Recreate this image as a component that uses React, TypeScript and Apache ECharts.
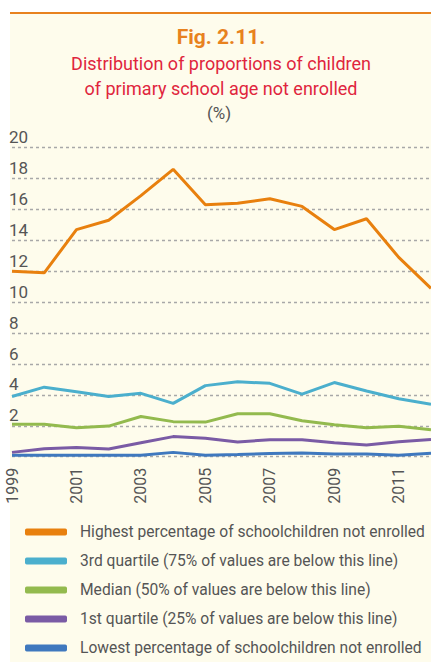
import React, { useEffect, useRef } from "react";
import * as echarts from "echarts";

const years = ["1999","2000","2001","2002","2003","2004","2005","2006","2007","2008","2009","2010","2011","2012"];
const highest = [12.0, 11.9, 14.7, 15.3, 16.9, 18.6, 16.3, 16.4, 16.7, 16.2, 14.7, 15.4, 12.9, 10.9];
const thirdQuartile = [3.9, 4.5, 4.2, 3.9, 4.1, 3.45, 4.6, 4.85, 4.75, 4.05, 4.8, 4.25, 3.75, 3.4];
const median = [2.1, 2.1, 1.88, 1.98, 2.6, 2.27, 2.24, 2.78, 2.78, 2.33, 2.07, 1.87, 1.97, 1.74];
const firstQuartile = [0.28, 0.52, 0.6, 0.5, 0.9, 1.3, 1.2, 0.95, 1.1, 1.1, 0.9, 0.76, 0.97, 1.12];
const lowest = [0.1, 0.1, 0.1, 0.1, 0.1, 0.28, 0.1, 0.14, 0.2, 0.24, 0.17, 0.17, 0.09, 0.22];
const seriesNames = [
  "Highest percentage of schoolchildren not enrolled",
  "3rd quartile (75% of values are below this line)",
  "Median (50% of values are below this line)",
  "1st quartile (25% of values are below this line)",
  "Lowest percentage of schoolchildren not enrolled",
];
const seriesColors = ["#E8800E", "#4BAFCD", "#93BA4E", "#7A5BA5", "#3F78BE"];
const titleLines = ["Fig. 2.11.", "Distribution of proportions of children", "of primary school age not enrolled", "(%)"];

const FONT = "Roboto, 'Liberation Sans', sans-serif";

export default function App() {
  const ref = useRef<HTMLDivElement>(null);
  useEffect(() => {
    if (!ref.current) return;
    const chart = echarts.init(ref.current, null, { renderer: "svg" });
    const dataSets = [highest, thirdQuartile, median, firstQuartile, lowest];
    chart.setOption({
      animation: false,
      backgroundColor: "transparent",
      textStyle: { fontFamily: FONT },
      graphic: [
        { type: "text", x: 221, y: 37, style: { text: titleLines[0], textAlign: "center", textVerticalAlign: "middle", font: `bold 21px ${FONT}`, fill: "#E8821E" } },
        { type: "text", x: 221, y: 63, style: { text: titleLines[1], textAlign: "center", textVerticalAlign: "middle", font: `18px ${FONT}`, fill: "#E0253D" } },
        { type: "text", x: 221, y: 88, style: { text: titleLines[2], textAlign: "center", textVerticalAlign: "middle", font: `18px ${FONT}`, fill: "#E0253D" } },
        { type: "text", x: 219, y: 113, style: { text: titleLines[3], textAlign: "center", textVerticalAlign: "middle", font: `17px ${FONT}`, fill: "#555555" } },
      ],
      grid: { left: 12, right: 0, top: 147.7, bottom: 205.3, containLabel: false },
      xAxis: {
        type: "category",
        data: years,
        boundaryGap: false,
        axisLine: { show: false },
        axisTick: { show: false },
        axisLabel: { interval: 1, rotate: 90, margin: 11, fontSize: 16, color: "#555555", fontFamily: FONT },
      },
      yAxis: {
        type: "value",
        min: 0,
        max: 20,
        interval: 2,
        axisLine: { show: false },
        axisTick: { show: false },
        axisLabel: {
          inside: true,
          showMinLabel: false,
          margin: -3,
          fontSize: 17,
          color: "#555555",
          verticalAlign: "bottom",
          padding: [0, 0, 2, 0],
          fontFamily: FONT,
        },
        splitLine: { show: true, lineStyle: { color: "#A8A8A8", width: 1.3, type: [3, 3] } },
      },
      legend: {
        orient: "vertical",
        left: 25,
        top: 522,
        padding: 0,
        itemWidth: 42,
        itemHeight: 7,
        itemGap: 9,
        icon: "roundRect",
        textStyle: { fontSize: 15.6, color: "#555555", lineHeight: 20, padding: [0, 0, 0, 8], fontFamily: FONT },
        data: seriesNames,
      },
      series: seriesNames.map((name, i) => ({
        name,
        type: "line",
        data: dataSets[i],
        symbol: "none",
        color: seriesColors[i],
        lineStyle: { width: 3, color: seriesColors[i] },
        z: 10 - i,
      })),
    });
    return () => chart.dispose();
  }, []);
  return (
    <div style={{ position: "fixed", left: 0, top: 0, width: 431, height: 662, background: "#ffffff", overflow: "hidden" }}>
      <div style={{ position: "absolute", left: 10, top: 12, width: 421, height: 650, background: "#FEFCEC", borderTop: "2px solid #E8821E", boxSizing: "border-box" }} />
      <div ref={ref} style={{ position: "absolute", left: 0, top: 0, width: 431, height: 662 }} />
    </div>
  );
}
